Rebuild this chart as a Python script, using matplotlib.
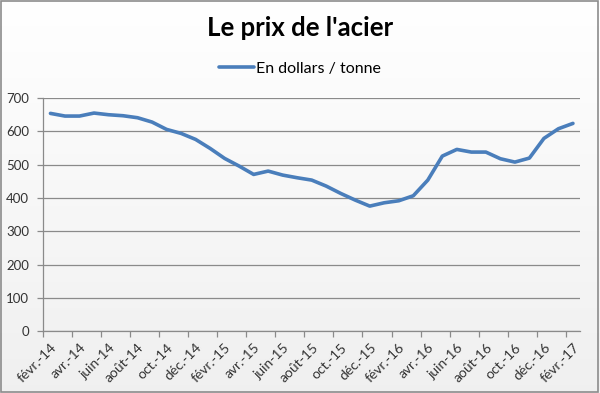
import numpy as np
import matplotlib.pyplot as plt
from matplotlib.patches import Rectangle

# Monthly steel price, févr. 2014 -> févr. 2017
months = ["févr.-14", "mars-14", "avr.-14", "mai-14", "juin-14", "juil.-14",
          "août-14", "sept.-14", "oct.-14", "nov.-14", "déc.-14", "janv.-15",
          "févr.-15", "mars-15", "avr.-15", "mai-15", "juin-15", "juil.-15",
          "août-15", "sept.-15", "oct.-15", "nov.-15", "déc.-15", "janv.-16",
          "févr.-16", "mars-16", "avr.-16", "mai-16", "juin-16", "juil.-16",
          "août-16", "sept.-16", "oct.-16", "nov.-16", "déc.-16", "janv.-17",
          "févr.-17"]
prices = [654, 646, 646, 655, 650, 647, 641, 628, 606, 594, 576, 549,
          519, 496, 471, 481, 469, 461, 454, 436, 414, 394, 376, 386,
          392, 407, 454, 526, 546, 538, 538, 518, 508, 520, 579, 608,
          624]
y_ticks = [0, 100, 200, 300, 400, 500, 600, 700]

title = "Le prix de l'acier"
series_name = "En dollars / tonne"

plt.rcParams['font.family'] = ['Lato', 'DejaVu Sans']

fig = plt.figure(figsize=(6.0, 3.93), dpi=100)

# soft vertical gradient behind everything
bg = fig.add_axes([0, 0, 1, 1], zorder=-10)
grad = np.linspace(1.0, 0.94, 256).reshape(-1, 1)
bg.imshow(np.dstack([grad, grad, grad]), aspect='auto', extent=[0, 1, 0, 1])
bg.axis('off')
fig.patches.append(Rectangle((0.002, 0.003), 0.994, 0.994, transform=fig.transFigure,
                             fill=False, edgecolor='#8c8c8c', linewidth=1.2))

ax = fig.add_axes([0.072, 0.1565, 0.895, 0.594])
ax.patch.set_alpha(0)

x = np.arange(len(prices))
ax.plot(x, prices, color='#4a7ebb', linewidth=2.6, solid_capstyle='round',
        solid_joinstyle='round', label=series_name)

ax.set_ylim(0, 700)
ax.set_xlim(-0.5, len(prices) - 0.5)
ax.set_yticks(y_ticks)
ax.yaxis.grid(True, color='#8a8a8a', linewidth=0.9)
ax.set_axisbelow(True)

# labels every two months, tick marks on category boundaries
ax.set_xticks(x[::2])
ax.set_xticklabels(months[::2], rotation=45, ha='right', rotation_mode='anchor')
ax.set_xticks(x[::2] - 0.5, minor=True)
ax.tick_params(axis='x', which='major', length=0, pad=7, labelsize=10)
ax.tick_params(axis='x', which='minor', length=4, color='#8a8a8a', width=0.9)
ax.tick_params(axis='y', length=4, color='#8a8a8a', width=0.9, pad=6, labelsize=9.5)
ax.tick_params(labelcolor='#333333')

for side in ['top', 'right']:
    ax.spines[side].set_visible(False)
for side in ['left', 'bottom']:
    ax.spines[side].set_color('#8a8a8a')
    ax.spines[side].set_linewidth(0.9)

fig.text(0.5, 0.93, title, ha='center', va='center', fontsize=18.5, fontweight='bold')
ax.legend(loc='center', bbox_to_anchor=(0.5, 0.825), bbox_transform=fig.transFigure,
          frameon=False, fontsize=11.5, handlelength=2.2, handletextpad=0.15)

fig.savefig('out.png', dpi=100)
